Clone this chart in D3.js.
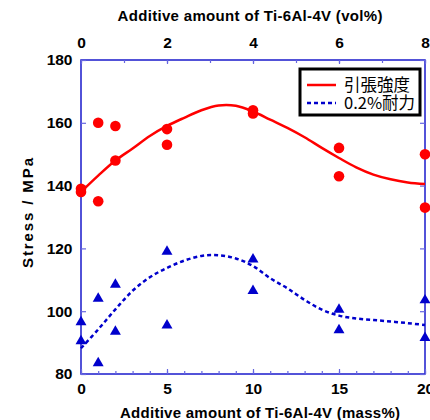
<!DOCTYPE html>
<html>
<head>
<meta charset="utf-8">
<script src="https://cdn.jsdelivr.net/npm/d3@7"></script>
<style>
    body { margin: 0; background: #fff; }
    svg { display: block; }
    .tick text { font-family: "Liberation Sans", Arial, sans-serif; font-weight: bold; font-size: 15.5px; fill: #000; }
</style>
</head>
<body>
<div id="chart"></div>
<script>
// measured points (mass% -> MPa), two specimens each
const massPct = [0, 1, 2, 5, 10, 15, 20];
const tensileA = [139, 160, 159, 158, 164, 152, 150];
const tensileB = [138, 135, 148, 153, 163, 143, 133];
const yieldA = [96.5, 104, 108.5, 119, 116.5, 100.5, 103.5];
const yieldB = [90.5, 83.5, 93.5, 95.5, 106.5, 94, 91.5];

// fitted curves
const fitX = [0, 1, 2, 3, 4, 5, 6, 7, 8, 9, 10, 11, 12, 13, 14, 15, 16, 17, 18, 19, 20];
const tensileFit = [138, 143.2, 148, 151.8, 155.8, 159, 161.6, 164, 165.5, 165.4, 163.6, 161, 158.4, 155.4, 152, 148.8, 145.8, 143.5, 142, 141, 140.5];
const yieldFit = [88.2, 94.2, 100.6, 106.5, 110.8, 113.8, 116.1, 117.6, 117.8, 116.8, 114.4, 110.5, 107.3, 103.6, 100.5, 98.6, 97.7, 97.2, 96.7, 96.2, 95.6];

const massTicks = [0, 5, 10, 15, 20];
const volTicks = [0, 2, 4, 6, 8];
const stressTicks = [80, 100, 120, 140, 160, 180];

const legendLabels = ['引張強度', '0.2%耐力'];

const width = 430, height = 420;
const margins = {top: 60, right: 5, bottom: 46, left: 81};
const plotW = width - margins.left - margins.right;
const plotH = height - margins.top - margins.bottom;

const axisBlue = '#1a1acc';
const tickBlue = '#6666e0';

const svg = d3.select('#chart').append('svg')
    .attr('width', width)
    .attr('height', height);

const x = d3.scaleLinear().domain([0, 20]).range([margins.left, margins.left + plotW]);
const xTop = d3.scaleLinear().domain([0, 8]).range([margins.left, margins.left + plotW]);
const y = d3.scaleLinear().domain([80, 180]).range([margins.top + plotH, margins.top]);

// frame
svg.append('rect')
    .attr('x', x(0)).attr('y', y(180))
    .attr('width', x(20) - x(0)).attr('height', y(80) - y(180))
    .attr('fill', 'none')
    .attr('stroke', axisBlue)
    .attr('stroke-width', 1.5);

function styleAxis(g) {
    g.select('.domain').remove();
    g.selectAll('.tick line').attr('stroke', tickBlue).attr('stroke-width', 1.2);
}

// bottom axis (mass%)
svg.append('g')
    .attr('transform', `translate(0, ${y(80)})`)
    .call(d3.axisBottom(x).tickValues(fitX).tickSize(-3).tickFormat(''))
    .call(styleAxis);
svg.append('g')
    .attr('transform', `translate(0, ${y(80)})`)
    .call(d3.axisBottom(x).tickValues(massTicks).tickSize(-5).tickPadding(9).tickFormat(d3.format('d')))
    .call(styleAxis);

// top axis (vol%)
svg.append('g')
    .attr('transform', `translate(0, ${y(180)})`)
    .call(d3.axisTop(xTop).ticks(8).tickSize(-3).tickFormat(''))
    .call(styleAxis);
svg.append('g')
    .attr('transform', `translate(0, ${y(180)})`)
    .call(d3.axisTop(xTop).tickValues(volTicks).tickSize(-4).tickPadding(12).tickFormat(d3.format('d')))
    .call(styleAxis);

// left and right axes
svg.append('g')
    .attr('transform', `translate(${x(0)}, 0)`)
    .call(d3.axisLeft(y).tickValues(stressTicks).tickSize(-5).tickPadding(8.5))
    .call(styleAxis);
svg.append('g')
    .attr('transform', `translate(${x(20)}, 0)`)
    .call(d3.axisRight(y).tickValues(stressTicks).tickSize(-5).tickFormat(''))
    .call(styleAxis);

// axis titles
const titleFont = '"Liberation Sans", Arial, sans-serif';
svg.append('text')
    .attr('x', 250).attr('y', 21)
    .attr('text-anchor', 'middle')
    .attr('font-family', titleFont).attr('font-weight', 'bold').attr('font-size', 15)
    .attr('textLength', 265).attr('lengthAdjust', 'spacing')
    .text('Additive amount of Ti-6Al-4V (vol%)');
svg.append('text')
    .attr('x', 260).attr('y', 418)
    .attr('text-anchor', 'middle')
    .attr('font-family', titleFont).attr('font-weight', 'bold').attr('font-size', 15)
    .attr('textLength', 280).attr('lengthAdjust', 'spacing')
    .text('Additive amount of Ti-6Al-4V (mass%)');
svg.append('text')
    .attr('transform', 'translate(33, 213) rotate(-90)')
    .attr('text-anchor', 'middle')
    .attr('font-family', titleFont).attr('font-weight', 'bold').attr('font-size', 15)
    .attr('textLength', 110).attr('lengthAdjust', 'spacing')
    .text('Stress / MPa');

// fitted curves
const line = d3.line().x(d => x(d[0])).y(d => y(d[1])).curve(d3.curveCatmullRom);

svg.append('path')
    .attr('d', line(d3.zip(fitX, tensileFit)))
    .attr('fill', 'none')
    .attr('stroke', '#ff0000')
    .attr('stroke-width', 2.5);

svg.append('path')
    .attr('d', line(d3.zip(fitX, yieldFit)))
    .attr('fill', 'none')
    .attr('stroke', '#0000cc')
    .attr('stroke-width', 2.5)
    .attr('stroke-dasharray', '4,3');

// markers
const tensile = d3.zip(massPct, tensileA).concat(d3.zip(massPct, tensileB));
const yieldPts = d3.zip(massPct, yieldA).concat(d3.zip(massPct, yieldB));

svg.append('g').selectAll('circle')
    .data(tensile)
    .enter()
    .append('circle')
    .attr('cx', d => x(d[0]))
    .attr('cy', d => y(d[1]))
    .attr('r', 5.3)
    .attr('fill', '#ff0000');

const tri = d3.symbol().type(d3.symbolTriangle).size(52);
svg.append('g').selectAll('path')
    .data(yieldPts)
    .enter()
    .append('path')
    .attr('d', tri)
    .attr('transform', d => `translate(${x(d[0])}, ${y(d[1])})`)
    .attr('fill', '#0000cc');

// legend
const legend = svg.append('g');
legend.append('rect')
    .attr('x', 300).attr('y', 69)
    .attr('width', 120).attr('height', 46)
    .attr('fill', '#fff')
    .attr('stroke', '#000')
    .attr('stroke-width', 3);

const legendStyles = [
    {stroke: '#ff0000', dash: null},
    {stroke: '#0000cc', dash: '4,3'}
];
legendLabels.forEach((label, i) => {
    const ly = 85 + i * 18;
    legend.append('line')
        .attr('x1', 307).attr('x2', 336)
        .attr('y1', ly).attr('y2', ly)
        .attr('stroke', legendStyles[i].stroke)
        .attr('stroke-width', 2.5)
        .attr('stroke-dasharray', legendStyles[i].dash);
    legend.append('text')
        .attr('x', 344).attr('y', ly + 6)
        .attr('font-family', '"Noto Sans CJK JP", sans-serif')
        .attr('font-size', 16.5)
        .attr('fill', '#000')
        .text(label);
});
</script>
</body>
</html>
